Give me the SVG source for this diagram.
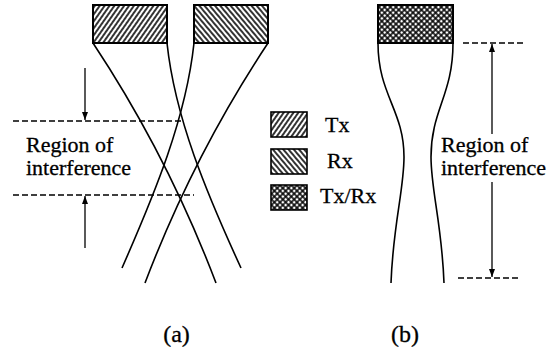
<svg xmlns="http://www.w3.org/2000/svg" width="549" height="353" viewBox="0 0 549 353">
<style>
  text { font-family: "Liberation Serif", "Times New Roman", serif; fill: #000; stroke: #000; stroke-width: 0.3; }
  .lbl { font-size: 22px; }
  .cap { font-size: 24px; }
  .box { stroke: #000; stroke-width: 2; }
  .beam { fill: none; stroke: #000; stroke-width: 1.6; }
  .dash { fill: none; stroke: #000; stroke-width: 1.4; stroke-dasharray: 6 3; }
  .arr { fill: none; stroke: #000; stroke-width: 1.3; marker-end: url(#ah); }
</style>
<defs>
  <pattern id="hTx" patternUnits="userSpaceOnUse" width="4" height="4" patternTransform="rotate(35)">
    <rect width="4" height="4" fill="#fff"/>
    <line x1="1" y1="0" x2="1" y2="4" stroke="#000" stroke-width="1.6"/>
  </pattern>
  <pattern id="hRx" patternUnits="userSpaceOnUse" width="4" height="4" patternTransform="rotate(-40)">
    <rect width="4" height="4" fill="#fff"/>
    <line x1="1" y1="0" x2="1" y2="4" stroke="#000" stroke-width="1.6"/>
  </pattern>
  <pattern id="hTxRx" patternUnits="userSpaceOnUse" width="4" height="4" patternTransform="rotate(45)">
    <rect width="4" height="4" fill="#fff"/>
    <line x1="1" y1="0" x2="1" y2="4" stroke="#000" stroke-width="1.5"/>
    <line x1="0" y1="1" x2="4" y2="1" stroke="#000" stroke-width="1.5"/>
  </pattern>
  <marker id="ah" markerUnits="userSpaceOnUse" markerWidth="8" markerHeight="6" refX="8" refY="3" orient="auto">
    <path d="M0,0 L8,3 L0,6 z" fill="#000"/>
  </marker>
</defs>

<g id="connectors">
  <!-- (a) beams -->
  <path class="beam" d="M93,43 C146,123 185.6,203 216,283"/>
  <path class="beam" d="M167,43 C175,118 206.5,193 241,268"/>
  <path class="beam" d="M194,43 C186,118 155,193 122,268"/>
  <path class="beam" d="M268,43 C215,123 175.4,203 145,283"/>
  <!-- (a) region markers -->
  <line class="dash" x1="13" y1="121" x2="182" y2="121"/>
  <line class="dash" x1="13" y1="195" x2="194" y2="195"/>
  <line class="arr" x1="85" y1="68" x2="85" y2="120"/>
  <line class="arr" x1="85" y1="248" x2="85" y2="196"/>
  <!-- (b) beam -->
  <path class="beam" d="M378,43 C378,95 404,110 404,157 C404,190 393,225 391,283"/>
  <path class="beam" d="M453,43 C453,95 431,110 431,157 C431,190 442,225 444,283"/>
  <!-- (b) region markers -->
  <line class="dash" x1="463" y1="43" x2="523" y2="43"/>
  <line class="dash" x1="458" y1="278" x2="520" y2="278"/>
  <line class="arr" x1="492" y1="134" x2="492" y2="44"/>
  <line class="arr" x1="492" y1="182" x2="492" y2="277"/>
</g>

<g id="tx-antenna">
  <rect class="box" x="93" y="5" width="74" height="38" fill="url(#hTx)"/>
</g>
<g id="rx-antenna">
  <rect class="box" x="194" y="5" width="74" height="38" fill="url(#hRx)"/>
</g>
<g id="txrx-antenna">
  <rect class="box" x="378" y="5" width="75" height="38" fill="url(#hTxRx)"/>
</g>

<g id="legend-tx">
  <rect x="271" y="112" width="36" height="25" stroke="#000" stroke-width="1.6" fill="url(#hTx)"/>
  <text class="lbl" x="325" y="132">Tx</text>
</g>
<g id="legend-rx">
  <rect x="271" y="149" width="36" height="25" stroke="#000" stroke-width="1.6" fill="url(#hRx)"/>
  <text class="lbl" x="327" y="168">Rx</text>
</g>
<g id="legend-txrx">
  <rect x="271" y="185" width="36" height="25" stroke="#000" stroke-width="1.6" fill="url(#hTxRx)"/>
  <text class="lbl" x="320" y="203">Tx/Rx</text>
</g>

<g id="label-a-region">
  <text class="lbl" x="26" y="152">Region of</text>
  <text class="lbl" x="26" y="175">interference</text>
</g>
<g id="label-b-region">
  <text class="lbl" x="441" y="152">Region of</text>
  <text class="lbl" x="441" y="175">interference</text>
</g>

<g id="caption-a"><text class="cap" x="176.5" y="342" text-anchor="middle">(a)</text></g>
<g id="caption-b"><text class="cap" x="405" y="342" text-anchor="middle">(b)</text></g>
</svg>
